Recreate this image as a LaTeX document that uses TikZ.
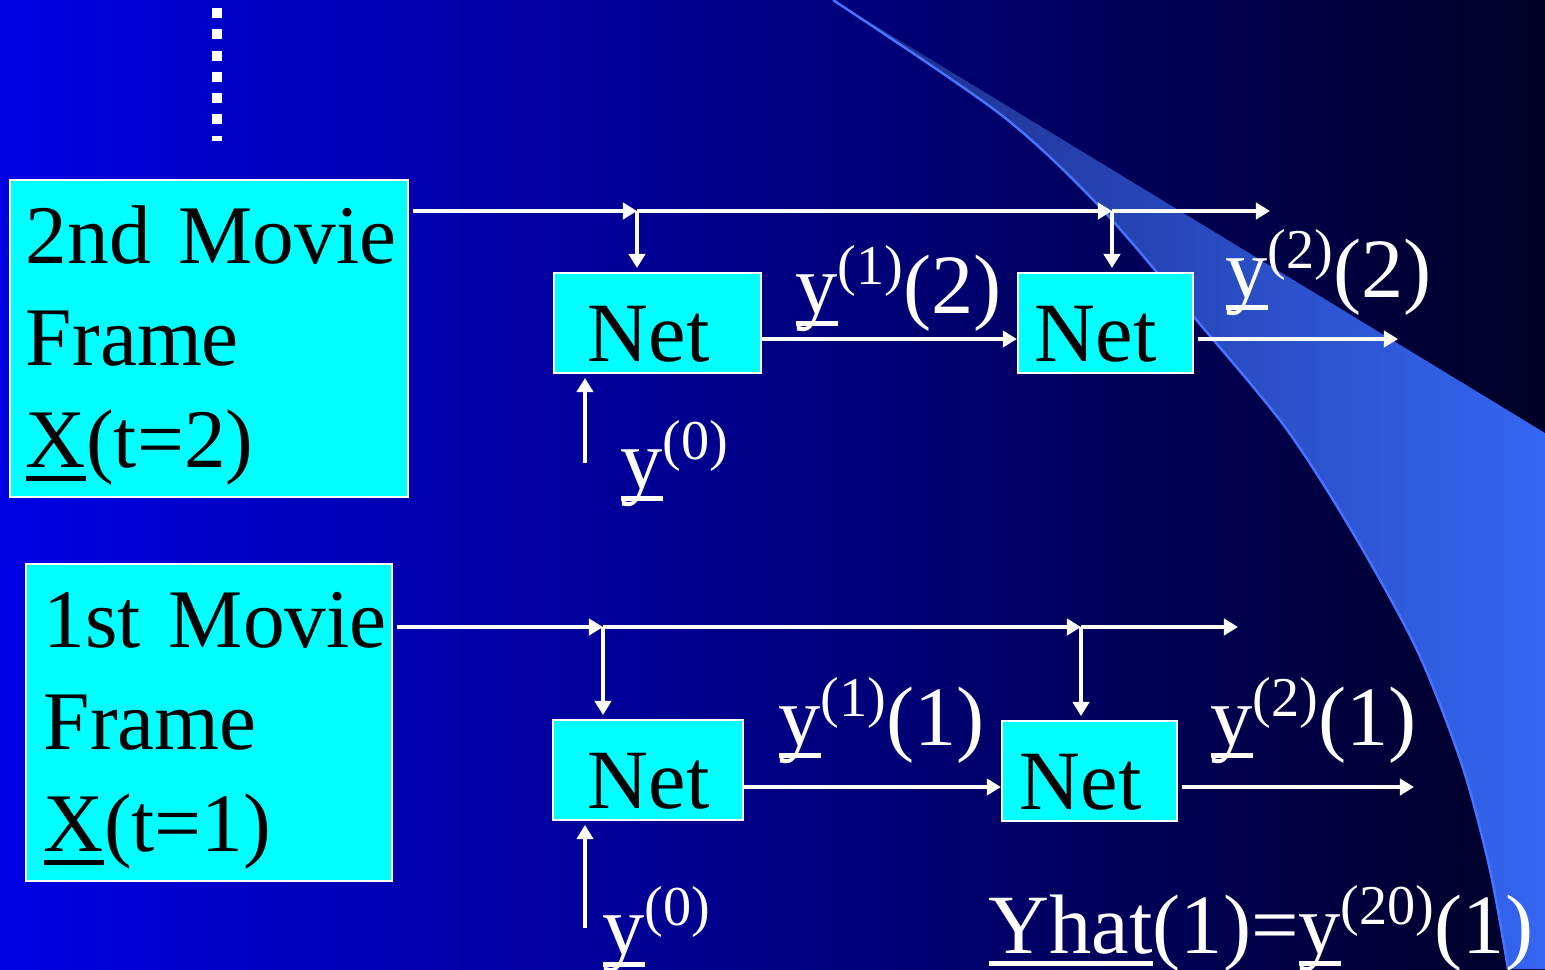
\documentclass[tikz,border=0pt]{standalone}
\usepackage{fontspec}
\setmainfont{Liberation Serif}
\usetikzlibrary{arrows.meta}

\definecolor{bgleft}{RGB}{0,0,228}
\definecolor{bgmid}{RGB}{0,0,140}
\definecolor{bgright}{RGB}{0,0,38}
\definecolor{swleft}{RGB}{28,44,135}
\definecolor{swright}{RGB}{52,102,242}
\definecolor{swedge}{RGB}{70,115,255}
\definecolor{boxcyan}{RGB}{0,255,255}

\newcommand\und[1]{\leavevmode\setbox0\hbox{#1}\rlap{\rule[-3.7pt]{\wd0}{1.4pt}}\box0}
\newcommand\sps[1]{\raisebox{8pt}{\fontsize{16}{16}\selectfont(#1)}}
\newcommand\fline[1]{\leavevmode\rlap{#1}}

\begin{document}
\begin{tikzpicture}[x=0.01cm, y=-0.01cm,
  frame/.style={draw=white, line width=0.6pt, fill=boxcyan, text=black, font=\fontsize{23.7}{29}\selectfont, align=left, text height=20.4pt, minimum height=3.17cm},
  net/.style={draw=white, line width=0.6pt, fill=boxcyan, text=black, font=\fontsize{24}{29}\selectfont, align=left, minimum height=0.94cm, text height=22pt, text depth=0pt},
  lbl/.style={text=white, font=\fontsize{24}{29}\selectfont, inner sep=0pt, anchor=base west},
  flow/.style={draw=white, line width=1.4pt, -{Triangle[length=4pt,width=4.6pt]}}]
\useasboundingbox (0,0) rectangle (1545,969);
\shade[left color=bgleft, middle color=bgmid, right color=bgright] (0,0) rectangle (1545,969);
\shade[left color=swleft, right color=swright] (833,0) -- (1545,433) -- (1545,969) -- plot[smooth] coordinates {(1508,969) (1490,870) (1462,765) (1417,650) (1353,533) (1285,427) (1194,317) (1100,207) (1000,114) (833,0)} -- cycle;
\draw[swedge, line width=0.7pt] plot[smooth] coordinates {(1508,969) (1490,870) (1462,765) (1417,650) (1353,533) (1285,427) (1194,317) (1100,207) (1000,114) (833,0)};

\coordinate (dotTop) at (217,8);
\coordinate (dotBot) at (217,141);
\draw[white, line width=3pt, dash pattern=on 2.85pt off 3.2pt] (dotTop) -- (dotBot);

\node[frame, inner xsep=4.55pt, text width=104.1pt] (frameB) at (209,338.5) {\fline{2nd Movie}\\\fline{Frame}\\\fline{\und{X}(t=2)}};
\node[frame, inner xsep=5.1pt, text width=93.9pt] (frameA) at (209,722.5) {\fline{1st Movie}\\\fline{Frame}\\\fline{\und{X}(t=1)}};

\node[net, inner xsep=9.67pt, text width=39.56pt] (netB1) at (657.5,323) {\fline{Net}};
\node[net, inner xsep=4.84pt, text width=40.11pt] (netB2) at (1105.5,323) {\fline{Net}};
\node[net, inner xsep=9.96pt, text width=34.14pt] (netA1) at (648,770) {\fline{Net}};
\node[net, inner xsep=5.12pt, text width=39.55pt] (netA2) at (1089.5,771) {\fline{Net}};

\coordinate (jB1) at (637,211);
\coordinate (jB2) at (1112,211);
\coordinate (endB) at (1270,211);
\coordinate (jA1) at (603,627);
\coordinate (jA2) at (1081,627);
\coordinate (endA) at (1238,627);
\coordinate (midB) at (0,339);
\coordinate (midA) at (0,787);
\coordinate (outB) at (1398,339);
\coordinate (outA) at (1414,787);
\coordinate (inB) at (585,463);
\coordinate (inA) at (585,928);

\draw[flow, shorten <=1pt] (frameB.east |- jB1) -- (jB1);
\draw[flow] (jB1) -- (jB2);
\draw[flow] (jB2) -- (endB);
\draw[flow, shorten >=1pt] (jB1) -- (jB1 |- netB1.north);
\draw[flow, shorten >=1pt] (jB2) -- (jB2 |- netB2.north);
\draw[flow] (netB1.east |- midB) -- (netB2.west |- midB);
\draw[flow, shorten <=1pt] (netB2.east |- midB) -- (outB);
\draw[flow, shorten >=1pt] (inB) -- (inB |- netB1.south);

\draw[flow, shorten <=1pt] (frameA.east |- jA1) -- (jA1);
\draw[flow] (jA1) -- (jA2);
\draw[flow] (jA2) -- (endA);
\draw[flow, shorten >=1pt] (jA1) -- (jA1 |- netA1.north);
\draw[flow, shorten >=1pt] (jA2) -- (jA2 |- netA2.north);
\draw[flow] (netA1.east |- midA) -- (netA2.west |- midA);
\draw[flow, shorten <=1pt] (netA2.east |- midA) -- (outA);
\draw[flow, shorten >=1pt] (inA) -- (inA |- netA1.south);

\node[lbl] (lblB1) at (795,313) {\und{y}\sps{1}(2)};
\node[lbl] (lblB2) at (1225,297) {\und{y}\sps{2}(2)};
\node[lbl] (lblB0) at (620,488) {\und{y}\sps{0}};
\node[lbl] (lblA1) at (778,745) {\und{y}\sps{1}(1)};
\node[lbl] (lblA2) at (1210,745) {\und{y}\sps{2}(1)};
\node[lbl] (lblA0) at (602,954) {\und{y}\sps{0}};
\node[lbl] (lblHat) at (988,953) {\und{Yhat}(1)=\und{y}\sps{20}(1)};
\end{tikzpicture}
\end{document}
